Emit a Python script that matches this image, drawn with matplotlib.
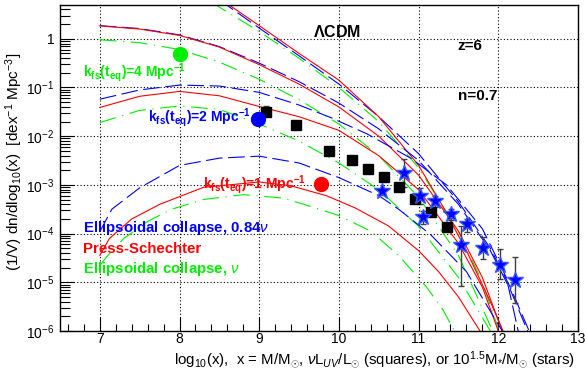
import numpy as np
import matplotlib
matplotlib.use("Agg")
import matplotlib.pyplot as plt
from matplotlib.ticker import FixedLocator, NullFormatter, FuncFormatter

plt.rcParams["font.family"] = ["Liberation Sans", "DejaVu Sans"]
plt.rcParams["mathtext.fontset"] = "custom"
plt.rcParams["mathtext.rm"] = "Liberation Sans"
plt.rcParams["mathtext.it"] = "Liberation Sans:italic"
plt.rcParams["mathtext.bf"] = "Liberation Sans:bold"

# curves: x = log10(x), values = log10 of (1/V) dn/dlog10(x)
# LCDM, no free-streaming cut-off
cdm_ps_x = [8.6, 9.0, 9.5, 10.0, 10.5, 11.0, 11.3, 11.6, 11.9, 12.1]
cdm_ps_logy = [0.72, 0.27, -0.3, -0.85, -1.6, -2.6, -3.43, -4.35, -5.4, -6.15]
cdm_ec84_x = [8.5, 9.0, 9.5, 10.0, 10.5, 11.0, 11.5, 11.9, 12.15, 12.4]
cdm_ec84_logy = [0.8, 0.22, -0.35, -0.93, -1.6, -2.36, -3.35, -4.3, -5.1, -6.05]
cdm_ec_x = [8.4, 9.0, 9.5, 10.0, 10.5, 11.0, 11.5, 11.8, 12.0]
cdm_ec_logy = [0.75, 0.15, -0.4, -1.0, -1.7, -2.65, -3.95, -5.0, -5.95]

# k_fs(t_eq) = 4 Mpc^-1
k4_ps_x = [7.0, 7.5, 8.0, 8.5, 9.0, 9.5, 10.0, 10.5, 11.0, 11.5, 11.8, 12.05]
k4_ps_logy = [0.265, 0.2, 0.07, -0.17, -0.53, -0.93, -1.4, -2.0, -2.8, -3.95, -4.9, -6.0]
k4_ec84_x = [7.0, 7.5, 8.0, 8.5, 9.0, 9.5, 10.0, 10.5, 11.0, 11.5, 11.9, 12.15, 12.38]
k4_ec84_logy = [0.27, 0.21, 0.08, -0.16, -0.5, -0.88, -1.32, -1.85, -2.5, -3.4, -4.35, -5.15, -6.05]
k4_ec_x = [7.0, 7.5, 8.0, 8.5, 9.0, 9.5, 10.0, 10.5, 11.0, 11.5, 11.93]
k4_ec_logy = [-0.02, -0.08, -0.22, -0.48, -0.83, -1.25, -1.75, -2.4, -3.25, -4.45, -6.0]

# k_fs(t_eq) = 2 Mpc^-1
k2_ps_x = [7.0, 7.5, 8.0, 8.5, 9.0, 9.5, 10.0, 10.5, 11.0, 11.5, 11.8, 12.0]
k2_ps_logy = [-1.41, -1.18, -1.08, -1.17, -1.39, -1.6, -1.88, -2.4, -3.1, -4.2, -5.1, -6.0]
k2_ec84_x = [7.0, 7.5, 8.0, 8.5, 9.0, 9.5, 9.9, 10.35, 10.9, 11.35, 11.8, 12.1, 12.25]
k2_ec84_logy = [-1.24, -1.05, -0.95, -0.97, -1.1, -1.36, -1.62, -1.95, -2.45, -3.0, -3.9, -4.9, -6.0]
k2_ec_x = [7.0, 7.5, 8.0, 8.5, 9.0, 9.5, 10.0, 10.5, 11.0, 11.5, 11.9]
k2_ec_logy = [-1.72, -1.47, -1.38, -1.45, -1.75, -2.1, -2.55, -3.1, -3.85, -4.9, -6.0]

# k_fs(t_eq) = 1 Mpc^-1
k1_ps_x = [7.0, 7.12, 7.4, 7.75, 8.3, 9.0, 9.4, 9.84, 10.2, 10.62, 11.0, 11.25, 11.5, 11.77]
k1_ps_logy = [-4.45, -4.1, -3.7, -3.4, -3.05, -2.94, -3.02, -3.22, -3.47, -3.84, -4.35, -4.78, -5.3, -6.0]
k1_ec84_x = [7.0, 7.15, 7.5, 8.0, 8.5, 9.0, 9.5, 10.0, 10.5, 10.75, 11.15, 11.6, 12.05]
k1_ec84_logy = [-3.96, -3.5, -3.06, -2.6, -2.45, -2.41, -2.55, -2.85, -3.22, -3.5, -4.02, -4.78, -6.0]
k1_ec_x = [7.0, 7.1, 7.3, 7.6, 7.9, 8.3, 8.8, 9.3, 9.7, 10.0, 10.4, 10.75, 11.1, 11.3, 11.45]
k1_ec_logy = [-4.65, -4.45, -4.1, -3.75, -3.5, -3.3, -3.2, -3.27, -3.47, -3.63, -3.95, -4.45, -5.1, -5.55, -6.0]

# observations
sq_x = [9.08, 9.46, 9.88, 10.16, 10.36, 10.56, 10.76, 10.96, 11.15, 11.36]
sq_logy = [-1.51, -1.76, -2.31, -2.49, -2.67, -2.84, -3.04, -3.29, -3.55, -3.86]
sq_logy_hi = [-1.37, -1.76, -2.31, -2.49, -2.67, -2.84, -3.04, -3.29, -3.55, -3.86]

star_x = [10.54, 10.82, 11.02, 11.05, 11.21, 11.41, 11.53, 11.61, 11.81, 12.02, 12.21]
star_logy = [-3.13, -2.75, -3.22, -3.65, -3.33, -3.60, -4.24, -3.80, -4.29, -4.65, -4.96]
star_logy_lo = [-3.20, -3.04, -3.40, -3.80, -3.45, -3.73, -5.08, -3.96, -4.53, -4.94, -5.43]
star_logy_hi = [-3.08, -2.47, -3.06, -3.53, -3.22, -3.49, -3.84, -3.69, -4.08, -4.32, -4.49]

circle_x = [8.0, 8.99, 9.78]
circle_logy = [-0.31, -1.65, -2.98]
circle_colors = ["#00ee00", "#0000ff", "#ff0000"]

y_ticks = [1e-6, 1e-5, 1e-4, 1e-3, 1e-2, 1e-1, 1]
x_ticks = [7, 8, 9, 10, 11, 12, 13]

RED = "#ff0000"
BLUE = "#0000ff"
GREEN = "#00ee00"

fig = plt.figure(figsize=(5.85, 3.73), dpi=100)
ax = fig.add_axes([60 / 585, 1 - 331 / 373, 518 / 585, 326 / 373])

curves = [
    (cdm_ps_x, cdm_ps_logy, cdm_ec84_x, cdm_ec84_logy, cdm_ec_x, cdm_ec_logy),
    (k4_ps_x, k4_ps_logy, k4_ec84_x, k4_ec84_logy, k4_ec_x, k4_ec_logy),
    (k2_ps_x, k2_ps_logy, k2_ec84_x, k2_ec84_logy, k2_ec_x, k2_ec_logy),
    (k1_ps_x, k1_ps_logy, k1_ec84_x, k1_ec84_logy, k1_ec_x, k1_ec_logy),
]
for px, py, bx, by, gx, gy in curves:
    ax.plot(gx, 10 ** np.array(gy), color=GREEN, lw=0.8, dashes=(15, 6, 1, 6))
    ax.plot(bx, 10 ** np.array(by), color=BLUE, lw=0.8, dashes=(15, 5))
    ax.plot(px, 10 ** np.array(py), color=RED, lw=0.8)

# data points
sq_y = 10 ** np.array(sq_logy)
ax.errorbar(sq_x, sq_y, yerr=[np.zeros(len(sq_y)), 10 ** np.array(sq_logy_hi) - sq_y],
            fmt="s", color="black", ms=6.5, ecolor="#404040", elinewidth=1, capsize=2, zorder=5)
star_y = 10 ** np.array(star_logy)
ax.errorbar(star_x, star_y,
            yerr=[star_y - 10 ** np.array(star_logy_lo), 10 ** np.array(star_logy_hi) - star_y],
            fmt="none", ecolor="#404040", elinewidth=1, capsize=2, zorder=5)
ax.plot(star_x, star_y, "*", color=BLUE, ms=12, mec="#3355ff", zorder=6)
for cx, cy, cc in zip(circle_x, circle_logy, circle_colors):
    ax.plot(cx, 10 ** cy, "o", color=cc, ms=10, mec=cc, zorder=6)

ax.set_yscale("log")
ax.set_xlim(6.5, 13)
ax.set_ylim(1e-6, 10 ** 0.694)

ax.xaxis.set_major_locator(FixedLocator(x_ticks))
ax.xaxis.set_minor_locator(FixedLocator(np.arange(6.6, 13.0, 0.2)))
ax.yaxis.set_major_locator(FixedLocator(y_ticks))
ax.yaxis.set_minor_locator(FixedLocator([m * 10.0 ** e for e in range(-6, 1) for m in range(2, 10)]))
ax.yaxis.set_minor_formatter(NullFormatter())


def ylab(v, pos):
    e = int(round(np.log10(v)))
    return "1" if e == 0 else r"$10^{%d}$" % e


ax.yaxis.set_major_formatter(FuncFormatter(ylab))
ax.tick_params(which="major", direction="in", length=10, width=0.8, labelsize=10)
ax.tick_params(axis="x", which="major", pad=1)
ax.tick_params(axis="y", which="major", pad=4)
ax.tick_params(which="minor", direction="in", length=5, width=0.8)
ax.tick_params(axis="y", which="minor", length=7)
ax.grid(True, which="major", color="black", linestyle=(0, (1, 2)), linewidth=0.8)
for s in ax.spines.values():
    s.set_linewidth(1.0)

# annotations
tk = dict(transform=ax.transAxes, fontweight="bold", va="baseline")
ax.text(0.535, 0.902, r"$\mathbf{\Lambda}$CDM", ha="center", color="black", fontsize=11.5, **tk)
ax.text(0.768, 0.862, "z=6", ha="left", color="black", fontsize=11, **tk)
ax.text(0.768, 0.709, "n=0.7", ha="left", color="black", fontsize=11, **tk)
ax.text(0.044, 0.779, r"k$_{\mathbf{fs}}$(t$_{\mathbf{eq}}$)=4 Mpc$^{\mathbf{-1}}$", color=GREEN, fontsize=10, **tk)
ax.text(0.170, 0.641, r"k$_{\mathbf{fs}}$(t$_{\mathbf{eq}}$)=2 Mpc$^{\mathbf{-1}}$", color=BLUE, fontsize=10, **tk)
ax.text(0.276, 0.436, r"k$_{\mathbf{fs}}$(t$_{\mathbf{eq}}$)=1 Mpc$^{\mathbf{-1}}$", color=RED, fontsize=10, **tk)
ax.text(0.044, 0.304, r"Ellipsoidal collapse, 0.84$\nu$", color=BLUE, fontsize=10.8, **tk)
ax.text(0.044, 0.239, "Press-Schechter", color=RED, fontsize=10.8, **tk)
ax.text(0.044, 0.178, r"Ellipsoidal collapse, $\nu$", color=GREEN, fontsize=10.8, **tk)

fig.text(575 / 585, 1 - 364 / 373,
         r"log$_{10}$(x),  x = M/M$_{\odot}$, $\nu$L$_{UV}$/L$_{\odot}$ (squares), or 10$^{1.5}$M$_{*}$/M$_{\odot}$ (stars)",
         ha="right", va="baseline", fontsize=10.8)
fig.text(14 / 585, 1 - 162 / 373,
         r"(1/V) dn/dlog$_{10}$(x)  [dex$^{-1}$ Mpc$^{-3}$]",
         rotation=90, ha="center", va="center", fontsize=11)

fig.savefig("out.png", dpi=100)
